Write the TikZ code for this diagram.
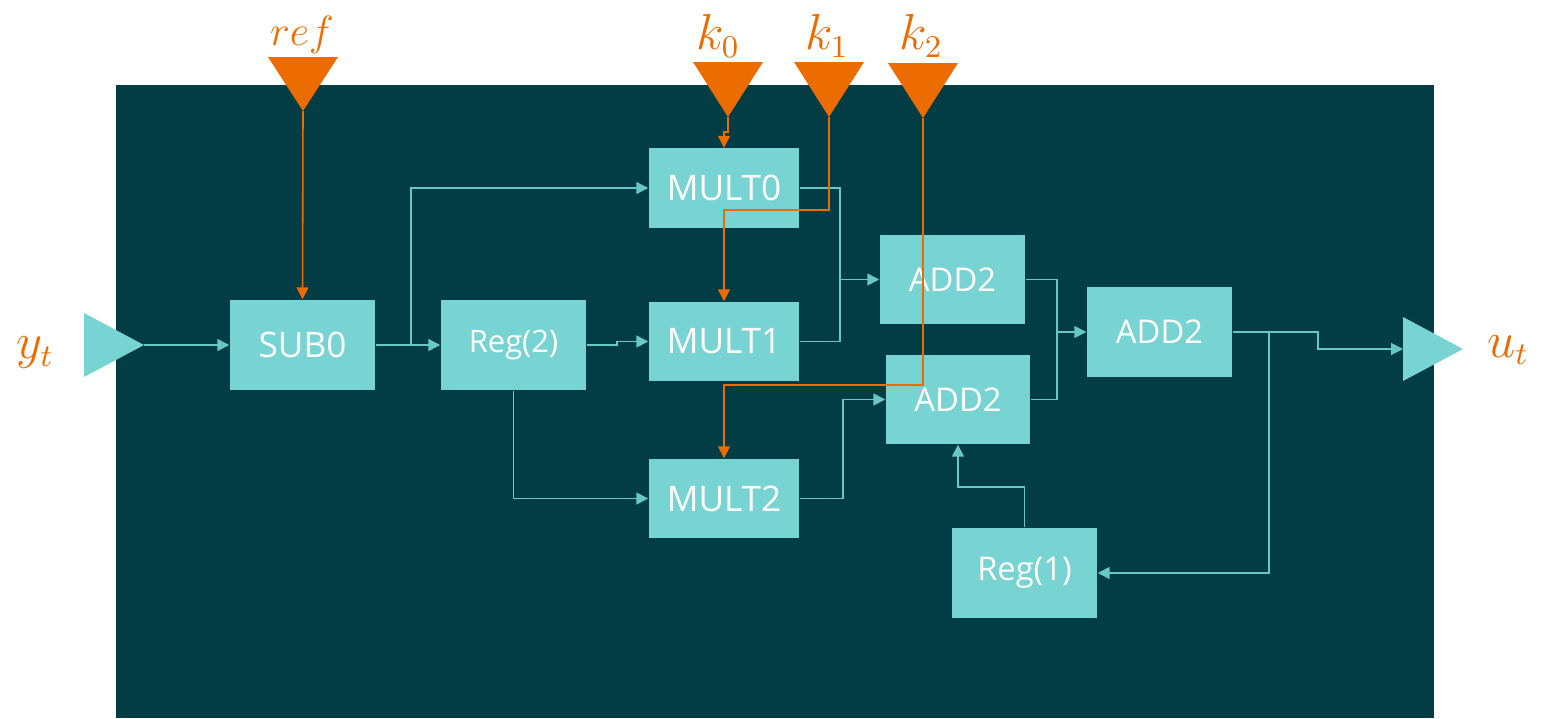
\documentclass[tikz,border=0pt]{standalone}
\usepackage{fontspec}
\setsansfont{Open Sans}
\usetikzlibrary{arrows.meta,calc}
\definecolor{bg}{RGB}{2,61,69}
\definecolor{boxc}{RGB}{120,212,210}
\definecolor{linec}{RGB}{104,200,198}
\definecolor{orng}{RGB}{237,108,0}
\begin{document}
\begin{tikzpicture}[x=0.01cm,y=-0.01cm,
  blk/.style={fill=boxc, inner sep=0pt, text=white, minimum width=1.45cm, minimum height=0.9cm, font=\sffamily\fontsize{10}{12}\selectfont},
  multblk/.style={blk, minimum width=1.5cm, minimum height=0.79cm},
  conn/.style={draw=linec, line width=0.45pt},
  arr/.style={conn, -{Triangle[length=3.4pt,width=3.4pt]}},
  oarr/.style={draw=orng, line width=0.45pt, -{Triangle[length=3.4pt,width=3.4pt]}},
  lbl/.style={text=orng, font=\fontsize{13.5}{16}\selectfont}]
\useasboundingbox (0,0) rectangle (1546,718);
\fill[bg] (116,85) rectangle (1434,718);

% blocks
\node[blk] (sub) at (302.5,345) {SUB0};
\node[blk, font=\sffamily\fontsize{8.8}{10}\selectfont] (reg2) at (513.5,345) {Reg(2)};
\node[multblk] (mult0) at (724,188) {MULT0};
\node[multblk] (mult1) at (724,341.5) {MULT1};
\node[multblk] (mult2) at (724,498.5) {MULT2};
\node[blk, font=\sffamily\fontsize{9.3}{11}\selectfont, minimum height=0.89cm] (addA) at (952.5,279.5) {ADD2};
\node[blk, font=\sffamily\fontsize{9.3}{11}\selectfont, minimum width=1.44cm, minimum height=0.89cm] (addB) at (958,399.5) {ADD2};
\node[blk, font=\sffamily\fontsize{9.3}{11}\selectfont] (addC) at (1159.5,332) {ADD2};
\node[blk, font=\sffamily\fontsize{9.3}{11}\selectfont] (reg1) at (1024.5,573) {Reg(1)};

% ports
\coordinate (ytip) at (144,345);
\coordinate (uin) at (1403,349);
\fill[boxc] (84,313) -- (ytip) -- (84,377) -- cycle;
\fill[boxc] (uin) -- (1403,317) -- (1463,349) -- (1403,381) -- cycle;

% cyan connectors
\draw[arr] (ytip) -- (sub.west);
\draw[arr] (sub.east) -- (reg2.west);
\draw[arr] ($(sub.east)+(35,0)$) |- (mult0.west);
\draw[arr] (reg2.east) -- (617,345) -- (617,341.5) -- (mult1.west);
\draw[arr] (reg2.south) |- (mult2.west);
\coordinate (j1) at (840,279.5);
\draw[conn] (mult0.east) -| (j1);
\draw[conn] (mult1.east) -| (j1);
\draw[arr] (j1) -- (addA.west);
\draw[arr] (mult2.east) -| (843,399.5) -- (addB.west);
\coordinate (j2) at (1057,332);
\draw[conn] (addA.east) -| (j2);
\draw[conn] (addB.east) -| (j2);
\draw[arr] (j2) -- (addC.west);
\draw[arr] (addC.east) -- (1318,332) |- (uin);
\draw[arr] (1269,332) |- (reg1.east);
\draw[arr] (reg1.north) |- (958,487) -- (addB.south);

% orange inputs
\coordinate (reftip) at (303,111);
\coordinate (k0tip) at (728,117);
\coordinate (k1tip) at (829,117);
\coordinate (k2tip) at (923,118);
\draw[oarr] (reftip) -- (sub.north);
\draw[oarr] (k0tip) -- (728,132) -- (724,132) -- (mult0.north);
\draw[oarr] (k1tip) |- (724,210) -- (mult1.north);
\draw[oarr] (k2tip) |- (724,385) -- (mult2.north);
\fill[orng] (268,57) -- (338,57) -- (reftip) -- cycle;
\fill[orng] (693,62) -- (763,62) -- (k0tip) -- cycle;
\fill[orng] (794,62) -- (864,62) -- (k1tip) -- cycle;
\fill[orng] (888,63) -- (958,63) -- (k2tip) -- cycle;

% labels
\node[lbl, font=\fontsize{12}{14}\selectfont] (lref) at (302,35) {$ref$};
\node[lbl] (lk0) at (718,36) {$k_0$};
\node[lbl] (lk1) at (827,36) {$k_1$};
\node[lbl] (lk2) at (921,36) {$k_2$};
\node[lbl] (ly) at (35,353) {$y_t$};
\node[lbl] (lu) at (1508,350) {$u_t$};
\end{tikzpicture}
\end{document}
